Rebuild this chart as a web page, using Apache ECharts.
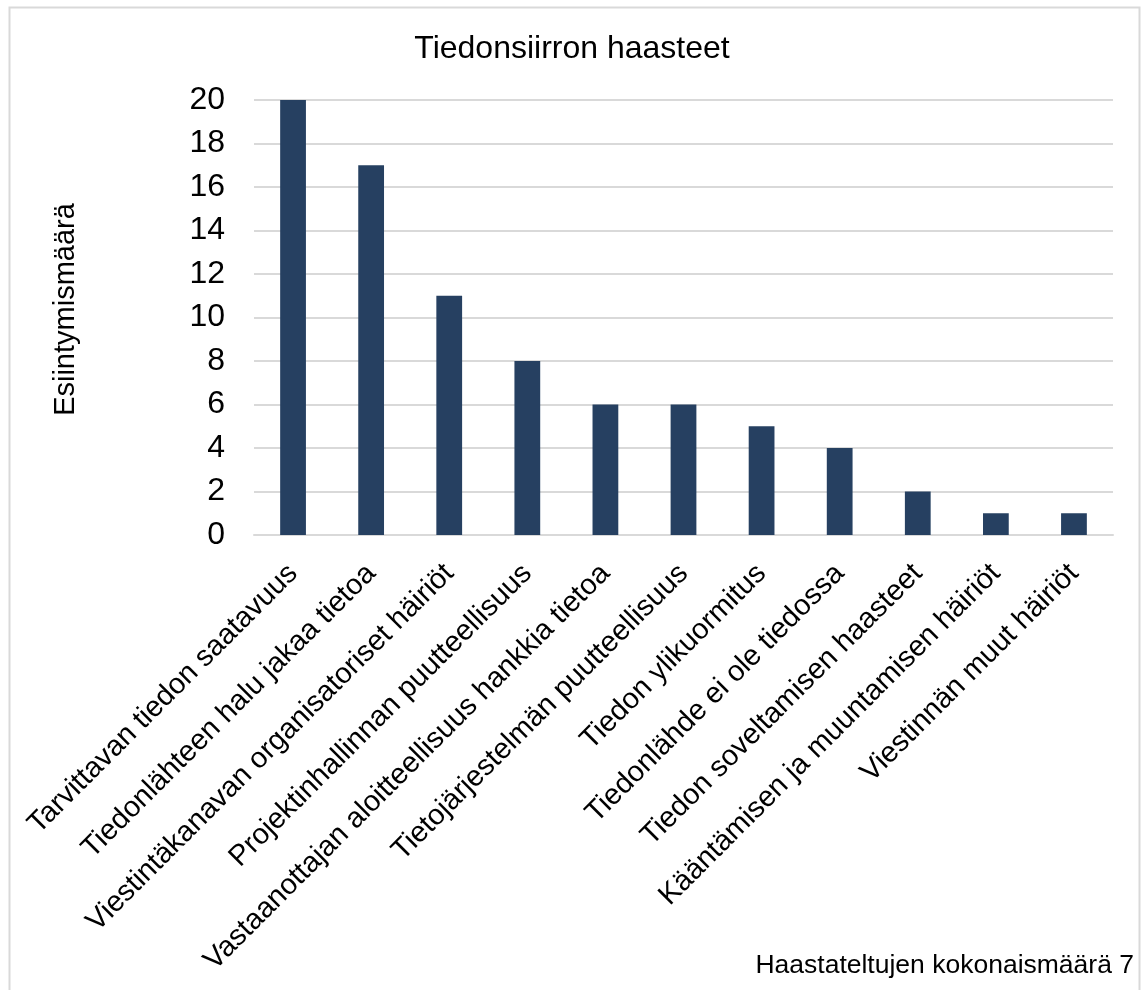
<!DOCTYPE html>
<html>
<head>
<meta charset="utf-8">
<script src="https://cdn.jsdelivr.net/npm/echarts@6/dist/echarts.min.js"></script>
<style>
html,body{margin:0;padding:0;background:#fff;}
#chart{width:1144px;height:990px;}
</style>
</head>
<body>
<div id="chart"></div>
<script>
const categories = [
  'Tarvittavan tiedon saatavuus',
  'Tiedonlähteen halu jakaa tietoa',
  'Viestintäkanavan organisatoriset häiriöt',
  'Projektinhallinnan puutteellisuus',
  'Vastaanottajan aloitteellisuus hankkia tietoa',
  'Tietojärjestelmän puutteellisuus',
  'Tiedon ylikuormitus',
  'Tiedonlähde ei ole tiedossa',
  'Tiedon soveltamisen haasteet',
  'Kääntämisen ja muuntamisen häiriöt',
  'Viestinnän muut häiriöt'
];
const values = [20, 17, 11, 8, 6, 6, 5, 4, 2, 1, 1];
const titleText = 'Tiedonsiirron haasteet';
const yAxisName = 'Esiintymismäärä';
const footnote = 'Haastateltujen kokonaismäärä 7';

const chart = echarts.init(document.getElementById('chart'), null, {renderer: 'canvas'});
const FONT = '"Liberation Sans", Arial, sans-serif';
chart.setOption({
  animation: false,
  backgroundColor: '#fff',
  title: {
    text: titleText,
    left: 'center',
    top: 28,
    textStyle: {fontFamily: FONT, fontSize: 32, fontWeight: 'normal', color: '#000'}
  },
  graphic: [
    {type: 'rect', shape: {x: 9.5, y: 7.5, width: 1130, height: 1000},
     style: {fill: 'none', stroke: '#D9D9D9', lineWidth: 2}, silent: true},
    {type: 'text', right: 10, top: 952,
     style: {text: footnote, font: '26.5px "Liberation Sans", Arial, sans-serif', fill: '#000'}}
  ],
  grid: {left: 254, right: 31, top: 100, bottom: 455, containLabel: false},
  xAxis: {
    type: 'category',
    data: categories,
    axisLine: {lineStyle: {color: '#D9D9D9', width: 2}},
    axisTick: {show: false},
    axisLabel: {
      interval: 0, rotate: 45, margin: 34,
      fontFamily: FONT, fontSize: 29, color: '#000'
    }
  },
  yAxis: {
    type: 'value',
    min: 0, max: 20, interval: 2,
    name: yAxisName,
    nameLocation: 'middle',
    nameGap: 174,
    nameTextStyle: {fontFamily: FONT, fontSize: 29, color: '#000', padding: [0, 0, 0, 16]},
    axisLine: {show: false},
    axisTick: {show: false},
    axisLabel: {margin: 29, fontFamily: FONT, fontSize: 32, color: '#000'},
    splitLine: {lineStyle: {color: '#D9D9D9', width: 2}}
  },
  series: [{
    type: 'bar',
    data: values,
    barWidth: '33%',
    itemStyle: {color: '#264061'}
  }]
});
</script>
</body>
</html>
